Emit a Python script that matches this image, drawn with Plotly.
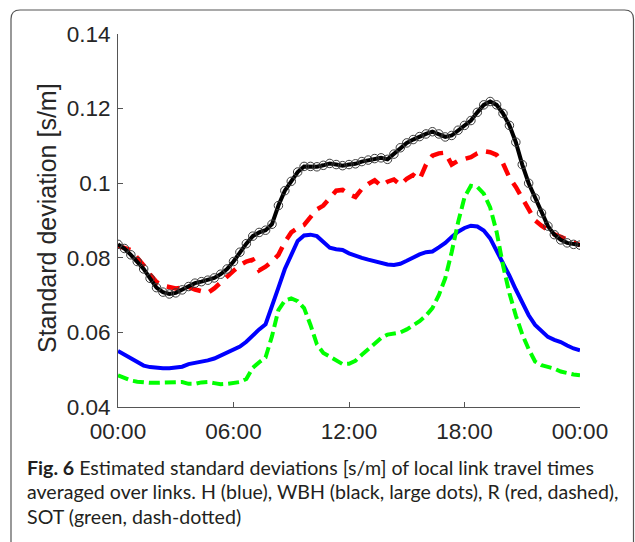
import plotly.graph_objects as go

# time of day in minutes, 20-minute steps
minutes = list(range(0, 1441, 20))
hours = [m / 60 for m in minutes]

x_tick_vals = [0, 6, 12, 18, 24]
x_tick_text = ["00:00", "06:00", "12:00", "18:00", "00:00"]
y_tick_vals = [0.04, 0.06, 0.08, 0.10, 0.12, 0.14]
y_tick_text = ["0.04", "0.06", "0.08", "0.1", "0.12", "0.14"]

# H (blue)
H = [0.0550, 0.0540, 0.0532, 0.0520, 0.0511, 0.0507, 0.0505, 0.0504, 0.0504, 0.0505,
     0.0508, 0.0515, 0.0518, 0.0521, 0.0525, 0.0530, 0.0538, 0.0547, 0.0553, 0.0562,
     0.0575, 0.0592, 0.0608, 0.0622, 0.0668, 0.0720, 0.0770, 0.0810, 0.0845, 0.0860,
     0.0862, 0.0858, 0.0842, 0.0827, 0.0823, 0.0821, 0.0812, 0.0805, 0.0800, 0.0795,
     0.0790, 0.0786, 0.0782, 0.0781, 0.0784, 0.0792, 0.0802, 0.0809, 0.0815, 0.0817,
     0.0828, 0.0840, 0.0856, 0.0870, 0.0880, 0.0886, 0.0884, 0.0873, 0.0852, 0.0820,
     0.0788, 0.0752, 0.0715, 0.0678, 0.0646, 0.0620, 0.0603, 0.0588, 0.0580, 0.0574,
     0.0565, 0.0557, 0.0552]

# WBH (black, large dots)
WBH = [0.0836, 0.0825, 0.0808, 0.0790, 0.0770, 0.0745, 0.0720, 0.0708, 0.0703, 0.0706,
       0.0714, 0.0723, 0.0732, 0.0736, 0.0740, 0.0746, 0.0756, 0.0770, 0.0790, 0.0815,
       0.0838, 0.0858, 0.0868, 0.0874, 0.0890, 0.0940, 0.0980, 0.1005, 0.1030, 0.1045,
       0.1045, 0.1044, 0.1048, 0.1053, 0.1050, 0.1047, 0.1050, 0.1052, 0.1058, 0.1062,
       0.1066, 0.1068, 0.1064, 0.1078, 0.1095, 0.1108, 0.1117, 0.1125, 0.1132, 0.1138,
       0.1132, 0.1124, 0.1128, 0.1142, 0.1155, 0.1168, 0.1190, 0.1210, 0.1219, 0.1210,
       0.1187, 0.1155, 0.1110, 0.1050, 0.1000, 0.0960, 0.0920, 0.0885, 0.0862, 0.0848,
       0.0840, 0.0836, 0.0834]

# R (red, dashed)
R = [0.0832, 0.0828, 0.0821, 0.0800, 0.0780, 0.0755, 0.0735, 0.0725, 0.0720, 0.0718,
     0.0720, 0.0722, 0.0715, 0.0709, 0.0706, 0.0718, 0.0735, 0.0750, 0.0765, 0.0780,
     0.0790, 0.0795, 0.0766, 0.0776, 0.0790, 0.0808, 0.0842, 0.0868, 0.0880, 0.0888,
     0.0910, 0.0930, 0.0940, 0.0962, 0.0980, 0.0982, 0.0970, 0.0963, 0.0985, 0.0998,
     0.1008, 0.0993, 0.1004, 0.1010, 0.0996, 0.1012, 0.1022, 0.1010, 0.1050, 0.1074,
     0.1080, 0.1082, 0.1050, 0.1060, 0.1065, 0.1070, 0.1080, 0.1086, 0.1083, 0.1076,
     0.1053, 0.1015, 0.0990, 0.0960, 0.0925, 0.0900, 0.0886, 0.0873, 0.0863, 0.0856,
     0.0848, 0.0840, 0.0834]

# SOT (green, dash-dotted)
SOT = [0.0485, 0.0477, 0.0471, 0.0468, 0.0466, 0.0465, 0.0465, 0.0466, 0.0466, 0.0466,
       0.0467, 0.0462, 0.0462, 0.0466, 0.0467, 0.0464, 0.0461, 0.0462, 0.0465, 0.0467,
       0.0475, 0.0505, 0.0520, 0.0533, 0.0590, 0.0660, 0.0685, 0.0691, 0.0684, 0.0665,
       0.0620, 0.0568, 0.0545, 0.0535, 0.0525, 0.0515, 0.0516, 0.0524, 0.0540, 0.0556,
       0.0570, 0.0585, 0.0594, 0.0597, 0.0600, 0.0608, 0.0618, 0.0630, 0.0645, 0.0665,
       0.0700, 0.0745, 0.0815, 0.0895, 0.0962, 0.0993, 0.0990, 0.0972, 0.0935, 0.0870,
       0.0780, 0.0705, 0.0645, 0.0595, 0.0555, 0.0522, 0.0512, 0.0507, 0.0503, 0.0495,
       0.0490, 0.0487, 0.0485]

caption_lines = [
    "<b>Fig. 6</b> Estimated standard deviations [s/m] of local link travel times",
    "averaged over links. H (blue), WBH (black, large dots), R (red, dashed),",
    "SOT (green, dash-dotted)",
]

W, Hpx = 635, 542
L, Rm, T, B = 118, 55, 34, 135
pw, ph = W - L - Rm, Hpx - T - B


def px(xp):
    return (xp - L) / pw


def py(yp):
    return (Hpx - B - yp) / ph


fig = go.Figure()
fig.add_trace(go.Scatter(x=hours, y=H, mode="lines", name="H",
                         line=dict(color="#0000ff", width=4)))
fig.add_trace(go.Scatter(x=hours, y=SOT, mode="lines", name="SOT",
                         line=dict(color="#00ff00", width=4, dash="11px,5px")))
fig.add_trace(go.Scatter(x=hours, y=R, mode="lines", name="R",
                         line=dict(color="#ff0000", width=4.5, dash="13px,9px")))
fig.add_trace(go.Scatter(x=hours, y=WBH, mode="lines+markers", name="WBH",
                         line=dict(color="#000000", width=4),
                         marker=dict(symbol="circle-open", size=8.5, color="#3c3c3c",
                                     line=dict(width=1, color="#3c3c3c"))))

axis_font = dict(family="Liberation Sans, Arial, sans-serif", size=22.5, color="#262626")

fig.update_layout(
    width=W, height=Hpx,
    margin=dict(l=L, r=Rm, t=T, b=B),
    paper_bgcolor="white", plot_bgcolor="white",
    showlegend=False,
    xaxis=dict(range=[0, 24], tickvals=x_tick_vals, ticktext=x_tick_text,
               showgrid=False, zeroline=False, showline=True, linecolor="#555",
               linewidth=1, ticks="inside", ticklen=5, tickcolor="#555",
               tickfont=axis_font, ticklabelstandoff=4),
    yaxis=dict(range=[0.04, 0.14], tickvals=y_tick_vals, ticktext=y_tick_text,
               showgrid=False, zeroline=False, showline=True, linecolor="#555",
               linewidth=1, ticks="inside", ticklen=5, tickcolor="#555",
               tickfont=axis_font, ticklabelstandoff=2),
)

# y-axis title
fig.add_annotation(text="Standard deviation [s/m]", textangle=-90,
                   xref="paper", yref="paper", x=px(47), y=py(218),
                   xanchor="center", yanchor="middle", showarrow=False,
                   font=dict(family="Liberation Sans, Arial, sans-serif", size=25,
                             color="#262626"))

# caption, line by line
for i, line in enumerate(caption_lines):
    fig.add_annotation(text=line, xref="paper", yref="paper",
                       x=px(25), y=py(467 + 24.5 * i), xanchor="left", yanchor="middle",
                       showarrow=False, align="left",
                       font=dict(family="Lato, Open Sans, sans-serif", size=19.6,
                                 color="#231f20"))

# rounded frame (open at the bottom)
x0, x1, y0, r = 11, 633.5, 10, 9
path = (f"M {px(x0)},{py(560)} L {px(x0)},{py(y0 + r)} "
        f"Q {px(x0)},{py(y0)} {px(x0 + r)},{py(y0)} "
        f"L {px(x1 - r)},{py(y0)} Q {px(x1)},{py(y0)} {px(x1)},{py(y0 + r)} "
        f"L {px(x1)},{py(560)}")
fig.add_shape(type="path", path=path, xref="paper", yref="paper",
              line=dict(color="#555", width=1.2), layer="above")

fig.write_html("out.html")
